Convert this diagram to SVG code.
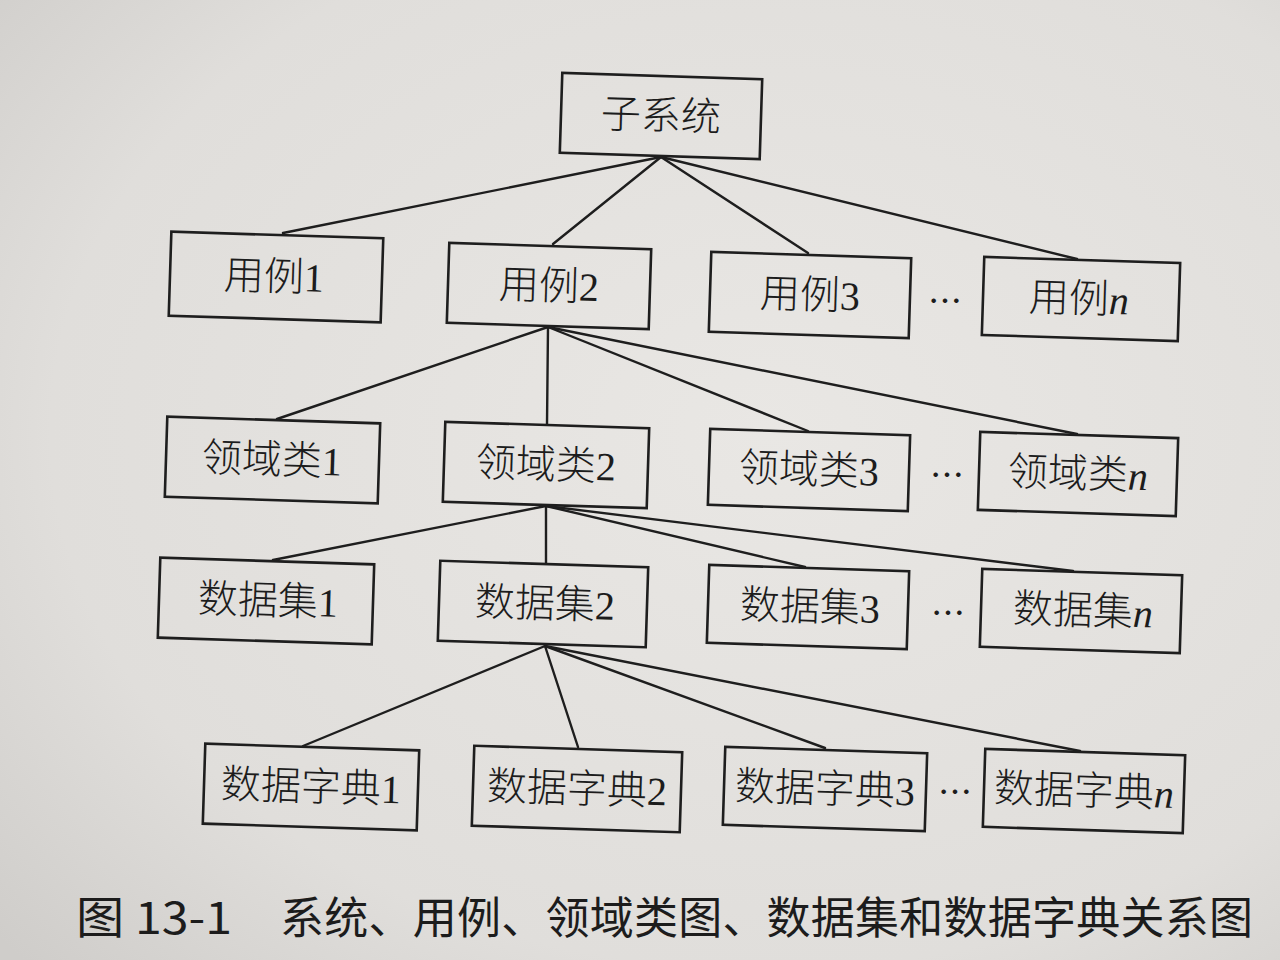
<svg xmlns="http://www.w3.org/2000/svg" width="1280" height="960" viewBox="0 0 1280 960">
  <defs>
    <radialGradient id="paper" cx="0.6" cy="0.45" r="0.8">
      <stop offset="0" stop-color="#e9e7e4"/>
      <stop offset="0.7" stop-color="#e0dedb"/>
      <stop offset="1" stop-color="#cfcdca"/>
    </radialGradient>
    <style>
      .box { fill: none; stroke: #1e1e1e; stroke-width: 2.6; }
      .lbl { font-family: "Liberation Serif", "Noto Sans CJK SC", serif; font-size: 40px; font-weight: 300; fill: #1c1c1c; text-anchor: middle; dominant-baseline: central; }
      .it { font-style: italic; font-weight: 400; }
      .dots { font-family: "Noto Sans CJK SC", sans-serif; font-size: 34px; fill: #1c1c1c; text-anchor: middle; dominant-baseline: central; }
      .edge line { stroke: #1e1e1e; stroke-width: 2.4; stroke-linecap: round; }
      .cap { font-family: "Noto Sans CJK SC", sans-serif; font-size: 44px; font-weight: 400; fill: #1c1c1c; dominant-baseline: central; }
    </style>
  </defs>

  <rect x="0" y="0" width="1280" height="960" fill="url(#paper)"/>

  <!-- connectors -->
  <g id="connectors" class="edge">
    <line x1="661" y1="157" x2="283" y2="233"/>
    <line x1="661" y1="157" x2="553" y2="244"/>
    <line x1="661" y1="157" x2="808" y2="253"/>
    <line x1="661" y1="157" x2="1077" y2="259"/>

    <line x1="548" y1="327" x2="277" y2="419"/>
    <line x1="548" y1="327" x2="547" y2="424"/>
    <line x1="548" y1="327" x2="808" y2="431"/>
    <line x1="548" y1="327" x2="1077" y2="434"/>

    <line x1="546" y1="506" x2="273" y2="560"/>
    <line x1="546" y1="506" x2="546" y2="563"/>
    <line x1="546" y1="506" x2="805" y2="567"/>
    <line x1="546" y1="506" x2="1073" y2="571"/>

    <line x1="545" y1="646" x2="303" y2="746"/>
    <line x1="545" y1="646" x2="578" y2="747"/>
    <line x1="545" y1="646" x2="825" y2="748"/>
    <line x1="545" y1="646" x2="1080" y2="751"/>
  </g>

  <!-- root -->
  <g id="subsystem" transform="rotate(1.8 661 116)">
    <rect class="box" x="561" y="76" width="200" height="80"/>
    <text class="lbl" x="661" y="116">子系统</text>
  </g>

  <!-- use cases -->
  <g id="usecase1" transform="rotate(1.8 276 277)">
    <rect class="box" x="170" y="235" width="212" height="84"/>
    <text class="lbl" x="274" y="277">用例1</text>
  </g>
  <g id="usecase2" transform="rotate(1.8 549 286)">
    <rect class="box" x="448" y="246" width="202" height="80"/>
    <text class="lbl" x="549" y="286">用例2</text>
  </g>
  <g id="usecase3" transform="rotate(1.8 810 295)">
    <rect class="box" x="710" y="255" width="200" height="80"/>
    <text class="lbl" x="810" y="295">用例3</text>
  </g>
  <g id="usecase-dots"><text class="dots" x="945" y="299">…</text></g>
  <g id="usecaseN" transform="rotate(1.8 1081 299)">
    <rect class="box" x="983" y="260" width="196" height="78"/>
    <text class="lbl" x="1079" y="299">用例<tspan class="it">n</tspan></text>
  </g>

  <!-- domain classes -->
  <g id="domain1" transform="rotate(1.8 272 460)">
    <rect class="box" x="166" y="420" width="213" height="80"/>
    <text class="lbl" x="272" y="460">领域类1</text>
  </g>
  <g id="domain2" transform="rotate(1.8 546 465)">
    <rect class="box" x="444" y="425" width="204" height="80"/>
    <text class="lbl" x="546" y="465">领域类2</text>
  </g>
  <g id="domain3" transform="rotate(1.8 809 470)">
    <rect class="box" x="709" y="432" width="200" height="76"/>
    <text class="lbl" x="809" y="470">领域类3</text>
  </g>
  <g id="domain-dots"><text class="dots" x="947" y="473">…</text></g>
  <g id="domainN" transform="rotate(1.8 1078 474)">
    <rect class="box" x="979" y="435" width="198" height="78"/>
    <text class="lbl" x="1078" y="474">领域类<tspan class="it">n</tspan></text>
  </g>

  <!-- data sets -->
  <g id="dataset1" transform="rotate(1.8 266 601)">
    <rect class="box" x="159" y="561" width="214" height="80"/>
    <text class="lbl" x="268" y="601">数据集1</text>
  </g>
  <g id="dataset2" transform="rotate(1.8 543 604)">
    <rect class="box" x="439" y="564" width="208" height="80"/>
    <text class="lbl" x="545" y="604">数据集2</text>
  </g>
  <g id="dataset3" transform="rotate(1.8 808 607)">
    <rect class="box" x="708" y="568" width="200" height="78"/>
    <text class="lbl" x="810" y="607">数据集3</text>
  </g>
  <g id="dataset-dots"><text class="dots" x="948" y="611">…</text></g>
  <g id="datasetN" transform="rotate(1.8 1081 611)">
    <rect class="box" x="981" y="572" width="200" height="78"/>
    <text class="lbl" x="1083" y="611">数据集<tspan class="it">n</tspan></text>
  </g>

  <!-- data dictionaries -->
  <g id="dict1" transform="rotate(1.8 311 787)">
    <rect class="box" x="204" y="747" width="214" height="80"/>
    <text class="lbl" x="311" y="787">数据字典1</text>
  </g>
  <g id="dict2" transform="rotate(1.8 577 789)">
    <rect class="box" x="473" y="749" width="208" height="80"/>
    <text class="lbl" x="577" y="789">数据字典2</text>
  </g>
  <g id="dict3" transform="rotate(1.8 825 789)">
    <rect class="box" x="724" y="750" width="202" height="78"/>
    <text class="lbl" x="825" y="789">数据字典3</text>
  </g>
  <g id="dict-dots"><text class="dots" x="955" y="790">…</text></g>
  <g id="dictN" transform="rotate(1.8 1084 791)">
    <rect class="box" x="984" y="752" width="200" height="78"/>
    <text class="lbl" x="1084" y="791">数据字典<tspan class="it">n</tspan></text>
  </g>

  <!-- figure caption -->
  <g id="caption">
    <text class="cap" x="76" y="915" textLength="156" lengthAdjust="spacingAndGlyphs">图 13-1</text>
    <text class="cap" x="280" y="915" textLength="973" lengthAdjust="spacing">系统、用例、领域类图、数据集和数据字典关系图</text>
  </g>
</svg>
